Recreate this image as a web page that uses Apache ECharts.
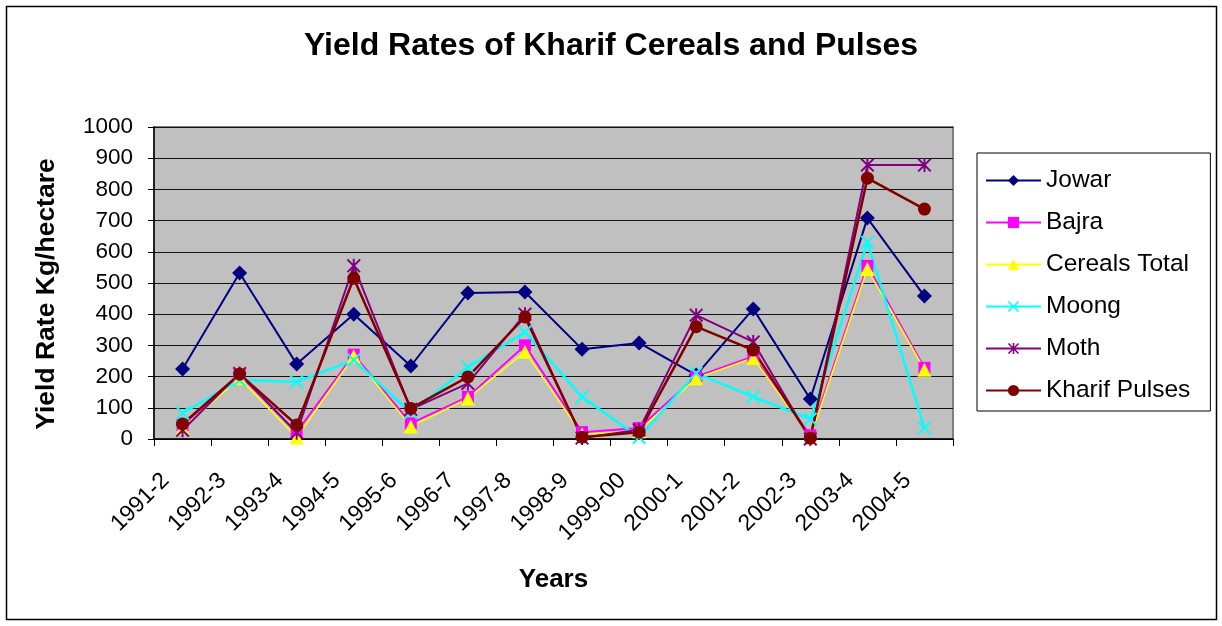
<!DOCTYPE html>
<html>
<head>
<meta charset="utf-8">
<title>Yield Rates of Kharif Cereals and Pulses</title>
<script src="https://cdn.jsdelivr.net/npm/echarts@6/dist/echarts.min.js"></script>
<style>
  html, body { margin: 0; padding: 0; background: #fff; }
  #chart { width: 1222px; height: 626px; }
</style>
</head>
<body>
<div id="chart"></div>
<script>
// Crop years (Kharif season)
const years = ['1991-2', '1992-3', '1993-4', '1994-5', '1995-6', '1996-7', '1997-8',
               '1998-9', '1999-00', '2000-1', '2001-2', '2002-3', '2003-4', '2004-5'];

// Yield rates, Kg/hectare
const jowar         = [224, 532, 240, 400, 234, 468, 471, 288, 308, 205, 417, 128, 708, 458];
const bajra         = [45, 205, 22, 270, 50, 135, 300, 22, 35, 200, 265, 12, 555, 228];
const cerealsTotal  = [35, 195, 5, 265, 40, 130, 280, 15, 25, 195, 260, 5, 545, 222];
const moong         = [83, 189, 183, 253, 85, 230, 343, 135, 5, 211, 135, 64, 631, 35];
const moth          = [28, 210, 20, 555, 95, 178, 400, 3, 30, 397, 311, 0, 878, 878];
const kharifPulses  = [48, 208, 45, 515, 98, 199, 391, 6, 22, 360, 285, 3, 836, 737];

// Y-axis ticks
const yTicks = { min: 0, max: 1000, step: 100 };

const FONT = 'Liberation Sans, Arial, sans-serif';

// Marker shapes: a thin "x" cross and an asterisk (x plus a vertical bar)
const crossPath = 'path://M0,2L2,0L10,8L18,0L20,2L12,10L20,18L18,20L10,12L2,20L0,18L8,10Z';
const starPath  = 'path://M0,2L2,0L10,8L18,0L20,2L12,10L20,18L18,20L10,12L2,20L0,18L8,10Z' +
                  'M8.6,0L11.4,0L11.4,20L8.6,20Z';

function lineSeries(name, data, color, symbol, symbolSize, width) {
  return {
    name: name,
    type: 'line',
    data: data,
    symbol: symbol,
    symbolSize: symbolSize,
    showAllSymbol: true,
    lineStyle: { color: color, width: width },
    itemStyle: { color: color, borderWidth: 0 },
    emphasis: { disabled: true }
  };
}

const chart = echarts.init(document.getElementById('chart'), null, { renderer: 'canvas' });

chart.setOption({
  animation: false,
  backgroundColor: '#ffffff',
  title: {
    text: 'Yield Rates of Kharif Cereals and Pulses',
    left: 'center',
    top: 25,
    textStyle: { fontFamily: FONT, fontSize: 32, fontWeight: 'bold', color: '#000' }
  },
  graphic: [{
    type: 'rect',
    shape: { x: 6.5, y: 6.5, width: 1210, height: 613 },
    style: { fill: 'none', stroke: '#000', lineWidth: 1.5 },
    silent: true,
    z: -1
  }],
  legend: {
    orient: 'vertical',
    left: 977,
    top: 153,
    padding: [15, 20, 8, 8],
    itemWidth: 55,
    itemHeight: 14,
    itemGap: 17,
    backgroundColor: '#fff',
    borderColor: '#000',
    borderWidth: 1,
    textStyle: { fontFamily: FONT, fontSize: 24.5, color: '#000', lineHeight: 24 },
    selectedMode: false,
    data: ['Jowar', 'Bajra', 'Cereals Total', 'Moong', 'Moth', 'Kharif Pulses']
  },
  grid: {
    left: 154,
    right: 269,
    top: 127,
    bottom: 187,
    show: true,
    backgroundColor: '#C0C0C0',
    borderColor: '#808080',
    borderWidth: 2
  },
  xAxis: {
    type: 'category',
    data: years,
    boundaryGap: true,
    name: 'Years',
    nameLocation: 'middle',
    nameGap: 128,
    nameTextStyle: { fontFamily: FONT, fontSize: 26, fontWeight: 'bold', color: '#000' },
    axisLine: { lineStyle: { color: '#000', width: 1.5 } },
    axisTick: { show: true, inside: false, length: 7, lineStyle: { color: '#000', width: 1 } },
    axisLabel: {
      rotate: 45,
      margin: 21,
      padding: [0, 24, 0, 0],
      interval: 0,
      fontFamily: FONT,
      fontSize: 23,
      color: '#000'
    },
    splitLine: { show: false }
  },
  yAxis: {
    type: 'value',
    min: yTicks.min,
    max: yTicks.max,
    interval: yTicks.step,
    name: 'Yield Rate Kg/hectare',
    nameLocation: 'middle',
    nameRotate: 90,
    nameGap: 94,
    nameTextStyle: {
      fontFamily: FONT, fontSize: 26.5, fontWeight: 'bold', color: '#000',
      padding: [0, 22, 0, 0]
    },
    axisLine: { show: true, lineStyle: { color: '#000', width: 1.5 } },
    axisTick: { show: true, inside: false, length: 6, lineStyle: { color: '#000', width: 1 } },
    axisLabel: {
      margin: 21, fontFamily: FONT, fontSize: 22.5, color: '#000',
      formatter: function (v) { return String(v); }
    },
    splitLine: { show: true, lineStyle: { color: '#111', width: 1.2 } }
  },
  series: [
    lineSeries('Jowar', jowar, '#000080', 'diamond', 15, 2),
    lineSeries('Bajra', bajra, '#FF00FF', 'rect', 12, 2),
    lineSeries('Cereals Total', cerealsTotal, '#FFFF00', 'triangle', 14, 1.6),
    lineSeries('Moong', moong, '#00FFFF', crossPath, 14, 2.5),
    lineSeries('Moth', moth, '#800080', starPath, 14, 2),
    lineSeries('Kharif Pulses', kharifPulses, '#800000', 'circle', 13, 2.5)
  ]
});
</script>
</body>
</html>
